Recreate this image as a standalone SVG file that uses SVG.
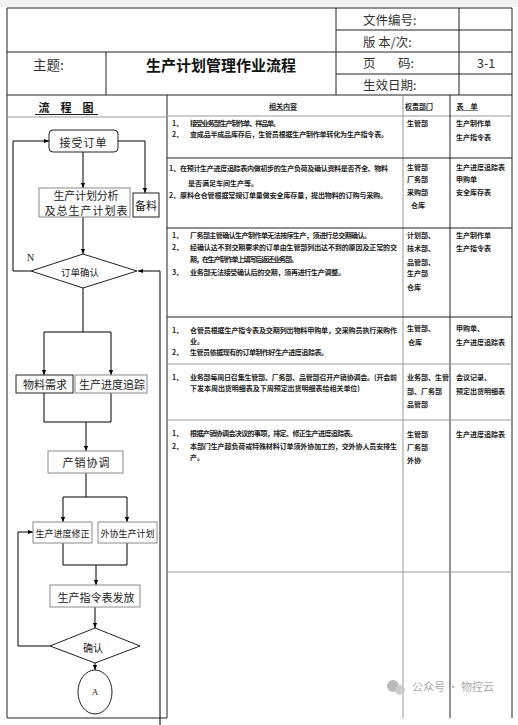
<svg xmlns="http://www.w3.org/2000/svg" width="518" height="725" viewBox="0 0 518 725">
<style>
.bg{fill:#fff}
.g{stroke:#222;stroke-width:1;fill:none}
.gl{stroke:#999;stroke-width:1;fill:none}
.hd{font-family:"Noto Sans CJK SC","Liberation Serif",serif;font-size:12.5px;fill:#333}
.ft{font-family:"Noto Sans CJK SC","Liberation Serif",serif;font-size:11px;fill:#222;text-anchor:middle;dominant-baseline:central}
.tt{font-family:"Noto Sans CJK SC",sans-serif;font-size:7px;font-weight:bold;fill:#222}
.box{fill:#fff;stroke:#222;stroke-width:1}
.boxg{fill:#fff;stroke:#8a8a8a;stroke-width:1}
.c{stroke:#000;stroke-width:1;fill:none}
</style>
<defs>
<marker id="a" viewBox="0 0 6 6" refX="6" refY="3" markerWidth="5" markerHeight="5" orient="auto"><path d="M0,0.5 L6,3 L0,5.5 z" fill="#000"/></marker>
</defs>
<rect class="bg" x="0" y="0" width="518" height="725"/>
<rect x="0" y="0" width="518" height="7" fill="#f2f2f2"/>
<g id="header">
<path class="g" d="M7,8 H512 V95 M7,8 V718 M336,8 V95 M459,8 V95 M336,30 H512 M7,52 H512 M336,74 H512 M7,95 H512 M106,52 V95"/>
<text class="hd" x="363" y="25">文件编号:</text>
<text class="hd" x="363" y="47">版 本/次:</text>
<text class="hd" x="363" y="68">页<tspan x="398">码:</tspan></text>
<text class="hd" x="363" y="90">生效日期:</text>
<text class="hd" x="477" y="68">3-1</text>
<text class="hd" x="33" y="70" style="font-size:13.5px">主题:</text>
<text x="221" y="71" text-anchor="middle" style="font-family:'Noto Sans CJK SC',sans-serif;font-size:15px;font-weight:bold;fill:#111">生产计划管理作业流程</text>
</g>
<g id="frame">
<path class="g" d="M167,95 V718 M512,95 V718 M7,718 H167"/>
<path class="gl" d="M7,117 H167 M167,116 H512"/>
<path class="gl" d="M403,95 V718"/>
<path class="g" d="M450,95 V718"/>
<path class="g" d="M167,158 H512 M167,228 H512 M167,317 H512"/>
<path class="gl" d="M167,364 H512 M167,420 H512 M167,572 H512"/>
<text x="66" y="112" text-anchor="middle" style="font-family:'Noto Sans CJK SC',sans-serif;font-size:11px;font-weight:bold;fill:#111">流　程　图</text>
<line class="g" x1="35" y1="114.5" x2="98" y2="114.5"/>
<text class="tt" x="283" y="108.5" text-anchor="middle">相关内容</text>
<line class="g" x1="269" y1="110.5" x2="297" y2="110.5" style="stroke-width:0.6"/>
<text class="tt" x="419" y="108.5" text-anchor="middle">权责部门</text>
<line class="g" x1="406" y1="110.5" x2="432" y2="110.5" style="stroke-width:0.6"/>
<text class="tt" x="467" y="108.5" text-anchor="middle">表　单</text>
<line class="g" x1="456" y1="110.5" x2="478" y2="110.5" style="stroke-width:0.6"/>
</g>
<g id="connectors">
<path class="c" d="M83,152 V188" marker-end="url(#a)"/>
<path class="c" d="M118,141 H145 V193" marker-end="url(#a)"/>
<path class="c" d="M83,217 V254" marker-end="url(#a)"/>
<path class="c" d="M31,271 H13 V141 H49" marker-end="url(#a)"/>
<path class="c" d="M160,725 V271 H138" marker-end="url(#a)"/>
<path class="c" d="M83,288 V332 M44,332 H111"/>
<path class="c" d="M44,332 V375" marker-end="url(#a)"/>
<path class="c" d="M111,332 V375" marker-end="url(#a)"/>
<path class="c" d="M44,393 V422 H111 V393"/>
<path class="c" d="M86,422 V451" marker-end="url(#a)"/>
<path class="c" d="M86,473 V497 M63,497 H127"/>
<path class="c" d="M63,497 V522" marker-end="url(#a)"/>
<path class="c" d="M127,497 V522" marker-end="url(#a)"/>
<path class="c" d="M63,543 V565 H127 V543"/>
<path class="c" d="M96,565 V585" marker-end="url(#a)"/>
<path class="c" d="M95,607 V628" marker-end="url(#a)"/>
<path class="c" d="M50,646 H18 V532 H33" marker-end="url(#a)"/>
<path class="c" d="M95,663 V670" marker-end="url(#a)"/>
<text x="27" y="261" style="font-family:'Liberation Serif',serif;font-size:10px;fill:#222">N</text>
</g>
<g id="n1"><rect class="box" x="49" y="130" width="69" height="22" rx="4"/><text class="ft" x="83.5" y="142" style="letter-spacing:1px">接受订单</text></g>
<g id="n2"><rect class="boxg" x="39" y="188" width="91" height="29"/><text class="ft" x="86" y="195" textLength="65">生产计划分析</text><text class="ft" x="86" y="210" textLength="83">及总生产计划表</text></g>
<g id="n3"><rect class="box" x="133" y="193" width="26" height="24"/><text class="ft" x="146" y="205">备料</text></g>
<g id="n4"><path class="box" d="M83,254 L137,271 L83,288 L31,271 Z"/><text class="ft" x="80" y="272" style="font-size:9.5px">订单确认</text></g>
<g id="n5"><rect class="box" x="16" y="375" width="57" height="18"/><text class="ft" x="45" y="384">物料需求</text></g>
<g id="n6"><rect class="boxg" x="75" y="375" width="72" height="18"/><text class="ft" x="112" y="384">生产进度追踪</text></g>
<g id="n7"><rect class="boxg" x="48" y="451" width="75" height="22"/><text class="ft" x="86.5" y="462" style="letter-spacing:1px">产销协调</text></g>
<g id="n8"><rect class="boxg" x="33" y="522" width="59" height="21"/><text class="ft" x="62.5" y="533" style="font-size:9px">生产进度修正</text></g>
<g id="n9"><rect class="boxg" x="98" y="522" width="59" height="21"/><text class="ft" x="127.5" y="533" style="font-size:9px">外协生产计划</text></g>
<g id="n10"><rect class="boxg" x="50" y="585" width="90" height="22"/><text class="ft" x="96" y="596.5">生产指令表发放</text></g>
<g id="n11"><path class="box" d="M95,628 L140,646 L95,663 L50,646 Z"/><text class="ft" x="93" y="647" style="font-size:10px">确认</text></g>
<g id="n12"><ellipse class="box" cx="95" cy="692" rx="17" ry="22"/><text class="ft" x="95" y="692" style="font-family:'Liberation Serif',serif;font-size:9px">A</text></g>
<g id="table-text">
<text class="tt" x="172" y="126">1、</text><text class="tt" x="190" y="126" textLength="90">接受业务部生产制作单、样品单。</text>
<text class="tt" x="172" y="137">2、</text><text class="tt" x="190" y="137" textLength="198">查成品半成品库存后，生管员根据生产制作单转化为生产指令表。</text>
<text class="tt" x="407" y="126">生管部</text>
<text class="tt" x="456" y="126">生产制作单</text><text class="tt" x="456" y="140">生产指令表</text>

<text class="tt" x="169" y="170.5">1、</text><text class="tt" x="180" y="170.5" textLength="208">在预计生产进度追踪表内做初步的生产负荷及确认资料是否齐全、物料</text>
<text class="tt" x="188" y="186">是否满足车间生产等。</text>
<text class="tt" x="169" y="197.5">2、</text><text class="tt" x="180" y="197.5" textLength="207">原料仓仓管根据常规订单量做安全库存量，提出物料的订购与采购。</text>
<text class="tt" x="407" y="169.5">生管部</text><text class="tt" x="407" y="182">厂务部</text><text class="tt" x="407" y="194.5">采购部</text><text class="tt" x="411" y="208">仓库</text>
<text class="tt" x="456" y="169.5">生产进度追踪表</text><text class="tt" x="456" y="182">申购单</text><text class="tt" x="456" y="194.5">安全库存表</text>

<text class="tt" x="172" y="237.5">1、</text><text class="tt" x="190" y="237.5" textLength="181">厂务部主管确认生产制作单无法按序生产，须进行总交期确认。</text>
<text class="tt" x="172" y="249.5">2、</text><text class="tt" x="190" y="249.5" textLength="207">经确认达不到交期要求的订单由生管部列出达不到的原因及正常的交</text>
<text class="tt" x="190" y="261.5" textLength="108">期，在生产制作单上填写后返还业务部。</text>
<text class="tt" x="172" y="274.5">3、</text><text class="tt" x="190" y="274.5" textLength="155">业务部无法接受确认后的交期，须再进行生产调整。</text>
<text class="tt" x="407" y="237.5">计划部、</text><text class="tt" x="407" y="251">技术部、</text><text class="tt" x="407" y="264.5">品管部、</text><text class="tt" x="407" y="276">生产部</text><text class="tt" x="407" y="289.5">仓库</text>
<text class="tt" x="456" y="237.5">生产制作单</text><text class="tt" x="456" y="251">生产指令表</text>

<text class="tt" x="172" y="332.5">1、</text><text class="tt" x="190" y="332.5" textLength="207">仓管员根据生产指令表及交期列出物料申购单，交采购员执行采购作</text>
<text class="tt" x="190" y="343.5">业。</text>
<text class="tt" x="172" y="355">2、</text><text class="tt" x="190" y="355" textLength="138">生管员依据现有的订单制作好生产进度追踪表。</text>
<text class="tt" x="407" y="331">生管部、</text><text class="tt" x="408" y="344.5">仓库</text>
<text class="tt" x="456" y="331">申购单、</text><text class="tt" x="456" y="344.5">生产进度追踪表</text>

<text class="tt" x="172" y="379.5">1、</text><text class="tt" x="190" y="379.5" textLength="207">业务部每周日召集生管部、厂务部、品管部召开产销协调会。(开会前</text>
<text class="tt" x="190" y="390.5" textLength="170">下发本周出货明细表及下周预定出货明细表给相关单位)</text>
<text class="tt" x="407" y="379.5">业务部、生管</text><text class="tt" x="407" y="393.5">部、厂务部</text><text class="tt" x="407" y="406.5">品管部</text>
<text class="tt" x="456" y="379.5">会议记录、</text><text class="tt" x="456" y="393.5">预定出货明细表</text>

<text class="tt" x="172" y="435.5">1、</text><text class="tt" x="190" y="435.5" textLength="167">根据产销协调会决议的事项，排定、修正生产进度追踪表。</text>
<text class="tt" x="172" y="448.5">2、</text><text class="tt" x="190" y="448.5" textLength="207">本部门生产超负荷或特殊材料订单须外协加工的，交外协人员安排生</text>
<text class="tt" x="190" y="459.5">产。</text>
<text class="tt" x="407" y="436.5">生管部</text><text class="tt" x="407" y="449.5">厂务部</text><text class="tt" x="407" y="462.5">外协</text>
<text class="tt" x="456" y="436.5">生产进度追踪表</text>
</g>
<g id="watermark">
<circle cx="393" cy="686" r="6" fill="#bbb"/><circle cx="400" cy="690" r="5" fill="#ccc"/>
<text x="412" y="691" style="font-family:'Noto Sans CJK SC',sans-serif;font-size:11px;fill:#aaa">公众号 · 物控云</text>
</g>
</svg>
